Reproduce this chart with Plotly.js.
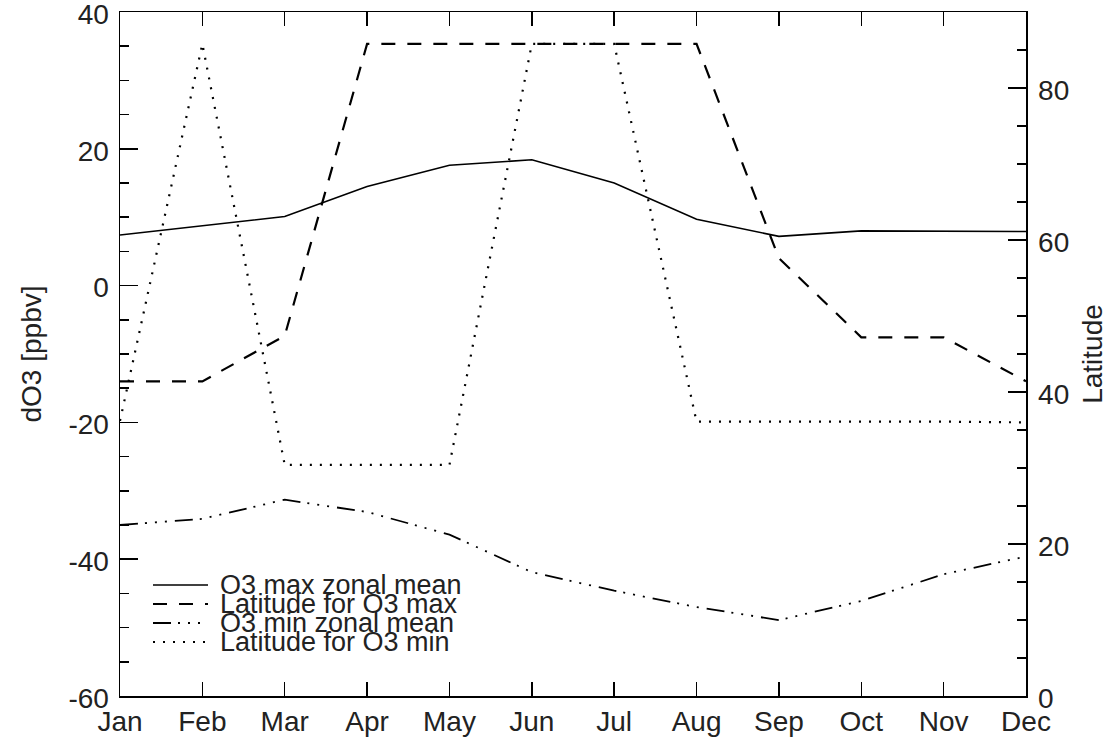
<!DOCTYPE html>
<html>
<head>
<meta charset="utf-8">
<script src="https://cdn.plot.ly/plotly-3.0.1.min.js"></script>
<style>html,body{margin:0;padding:0;background:#fff}#chart{width:1110px;height:754px}</style>
</head>
<body>
<div id="chart"></div>
<script>
// ---- data ----
const months = ['Jan','Feb','Mar','Apr','May','Jun','Jul','Aug','Sep','Oct','Nov','Dec'];
const o3MaxZonalMean = [7.4, 8.7, 10.1, 14.5, 17.6, 18.4, 15.0, 9.7, 7.2, 8.0, 8.0, 7.9];
const latO3Max       = [41.4, 41.4, 47.4, 85.8, 85.8, 85.8, 85.8, 85.8, 57.6, 47.2, 47.2, 41.4];
const o3MinZonalMean = [-35.0, -34.1, -31.3, -33.1, -36.4, -41.9, -44.6, -47.0, -48.9, -46.1, -42.2, -39.6];
const latO3Min       = [36.2, 85.8, 30.4, 30.4, 30.4, 85.8, 85.8, 36.1, 36.1, 36.1, 36.1, 36.0];
const leftTicks     = [-60, -40, -20, 0, 20, 40];
const leftTickText  = ['-60', '-40', '-20', '0', '20', '40'];
const rightTicks    = [0, 20, 40, 60, 80];
const rightTickText = ['0', '20', '40', '60', '80'];
const legendNames = ['O3 max zonal mean', 'Latitude for O3 max', 'O3 min zonal mean', 'Latitude for O3 min'];

const FONT = 'Liberation Sans, Arial, Helvetica, sans-serif';
const INK = '#000';
const TXT = '#222';
const styles = [
  {dash: 'solid', width: 1.6},
  {dash: '14px,12px', width: 2.2},
  {dash: '18px,7px,2px,8px,2px,8px,2px,8px', width: 1.8},
  {dash: '2px,8px', width: 2.2}
];
const series = [o3MaxZonalMean, latO3Max, o3MinZonalMean, latO3Min];
const axesFor = ['y', 'y2', 'y', 'y2'];

const traces = series.map((s, i) => ({
  x: months, y: s, yaxis: axesFor[i], type: 'scatter', mode: 'lines',
  name: legendNames[i], showlegend: false,
  line: {color: INK, width: styles[i].width, dash: styles[i].dash}
}));

// manual legend (IDL style, tight rows)
const legRowsPx = [585, 604, 623, 642];
const plotTop = 12, plotBot = 696, plotL = 120, plotR = 1026;
const py = p => (plotBot - p) / (plotBot - plotTop);
const px = p => (p - plotL) / (plotR - plotL);
const shapes = legRowsPx.map((r, i) => ({
  type: 'line', xref: 'paper', yref: 'paper',
  x0: px(153), x1: px(208), y0: py(r), y1: py(r),
  line: {color: INK, width: styles[i].width, dash: styles[i].dash}
}));
const annotations = legRowsPx.map((r, i) => ({
  xref: 'paper', yref: 'paper', x: px(218), y: py(r), xanchor: 'left', yanchor: 'middle',
  text: legendNames[i], showarrow: false, font: {family: FONT, size: 27, color: TXT}
}));

const layout = {
  width: 1110, height: 754,
  margin: {l: 120, r: 84, t: 12, b: 58},
  paper_bgcolor: '#fff', plot_bgcolor: '#fff',
  font: {family: FONT, color: TXT},
  showlegend: false,
  xaxis: {
    type: 'category', range: [0, 11], showgrid: false, zeroline: false,
    showline: true, linecolor: INK, linewidth: 1.5, mirror: 'ticks',
    ticks: 'inside', ticklen: 14, tickwidth: 1.5, tickcolor: INK,
    tickfont: {family: FONT, size: 28, color: TXT}, ticklabelstandoff: 0
  },
  yaxis: {
    range: [-60, 40], tickvals: leftTicks, ticktext: leftTickText, showgrid: false, zeroline: false,
    showline: true, linecolor: INK, linewidth: 1.5,
    ticks: 'inside', ticklen: 18, tickwidth: 1.5, tickcolor: INK,
    minor: {dtick: 5, tick0: 0, ticks: 'inside', ticklen: 9, tickwidth: 1.5, tickcolor: INK, showgrid: false},
    tickfont: {family: FONT, size: 28, color: TXT}, ticklabelstandoff: 4, ticklabelshift: 2,
    ticklabeloverflow: 'allow',
    title: {text: 'dO3 [ppbv]', font: {family: FONT, size: 28, color: TXT}, standoff: 18}
  },
  yaxis2: {
    overlaying: 'y', side: 'right', range: [0, 90], tickvals: rightTicks, ticktext: rightTickText,
    showgrid: false, zeroline: false, showline: true, linecolor: INK, linewidth: 1.5,
    ticks: 'inside', ticklen: 18, tickwidth: 1.5, tickcolor: INK,
    minor: {dtick: 5, tick0: 0, ticks: 'inside', ticklen: 9, tickwidth: 1.5, tickcolor: INK, showgrid: false},
    tickfont: {family: FONT, size: 28, color: TXT}, ticklabelstandoff: 5, ticklabelshift: 2,
    ticklabeloverflow: 'allow',
    title: {text: 'Latitude', font: {family: FONT, size: 28, color: TXT}, standoff: 14}
  },
  shapes: shapes,
  annotations: annotations
};

Plotly.newPlot('chart', traces, layout, {staticPlot: true, displayModeBar: false});
</script>
</body>
</html>
